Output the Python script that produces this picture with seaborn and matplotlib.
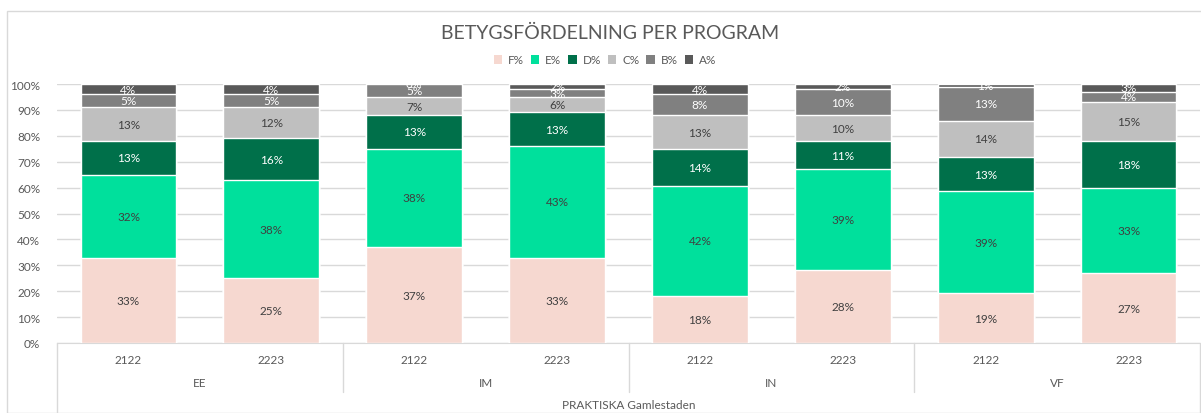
import pandas as pd
import seaborn as sns
import matplotlib
matplotlib.use("Agg")
from matplotlib import pyplot as plt
from matplotlib.patches import Patch, Rectangle
from matplotlib.lines import Line2D
import matplotlib.transforms as mtransforms

# data (percent per grade)
programs = ["EE", "EE", "IM", "IM", "IN", "IN", "VF", "VF"]
years = ["2122", "2223", "2122", "2223", "2122", "2223", "2122", "2223"]
school = "PRAKTISKA Gamlestaden"
grades = ["F%", "E%", "D%", "C%", "B%", "A%"]
f_vals = [33, 25, 37, 33, 18, 28, 19, 27]
e_vals = [32, 38, 38, 43, 42, 39, 39, 33]
d_vals = [13, 16, 13, 13, 14, 11, 13, 18]
c_vals = [13, 12, 7, 6, 13, 10, 14, 15]
b_vals = [5, 5, 5, 3, 8, 10, 13, 4]
a_vals = [4, 4, 0, 2, 4, 2, 1, 3]

colors = ["#F6D8D0", "#00E09C", "#00704A", "#BFBFBF", "#808080", "#595959"]
label_colors = ["#404040", "#404040", "white", "#404040", "white", "white"]
txt_gray = "#595959"
grid_gray = "#D9D9D9"

W, H = 1201, 414


def main():
    df = pd.DataFrame({"Program": programs, "Year": years,
                       "F%": f_vals, "E%": e_vals, "D%": d_vals,
                       "C%": c_vals, "B%": b_vals, "A%": a_vals})
    df["Key"] = df["Program"] + " " + df["Year"]
    order = df["Key"].tolist()

    # 100% stacked: scale each column to its total
    total = df[grades].sum(axis=1)
    cum = df[grades].div(total, axis=0).cumsum(axis=1)

    sns.set_style("white")
    plt.rcParams["font.family"] = ["Lato", "DejaVu Sans"]

    fig = plt.figure(figsize=(W / 100, H / 100), dpi=100)
    ax = fig.add_axes([57 / W, 1 - 344 / H, (1200 - 57) / W, (344 - 85) / H])

    # chart border
    fig.patches.append(Rectangle((7 / W, 0), 1.2, 1 - 12 / H, transform=fig.transFigure,
                                 fill=False, edgecolor=grid_gray, lw=1, zorder=0))

    for g, col in zip(reversed(grades), reversed(colors)):
        plot_df = pd.DataFrame({"Key": order, "val": cum[g].values})
        sns.barplot(data=plot_df, x="Key", y="val", order=order, color=col,
                    saturation=1, width=0.67, errorbar=None, ax=ax, zorder=3)

    # data labels
    for i in range(len(df)):
        bottom = 0
        for g, lc in zip(grades, label_colors):
            top = cum.loc[i, g]
            ax.text(i, (bottom + top) / 2, f"{df.loc[i, g]}%", ha="center", va="center",
                    fontsize=8.5, color=lc, zorder=5)
            bottom = top

    ax.set_ylim(0, 1)
    ax.set_xlim(-0.5, len(df) - 0.5)
    ax.set_yticks([k / 10 for k in range(11)])
    ax.set_yticklabels([f"{k * 10}%" for k in range(11)], fontsize=8.5, color=txt_gray)
    ax.yaxis.grid(True, color=grid_gray, lw=1, zorder=0)
    ax.set_axisbelow(True)
    ax.tick_params(axis="y", length=0, pad=12)
    ax.set_xticks([])
    ax.set_xlabel("")
    ax.set_ylabel("")
    for s in ["top", "right", "left"]:
        ax.spines[s].set_visible(False)
    ax.spines["bottom"].set_color(grid_gray)

    # multi-level category axis
    trans = mtransforms.blended_transform_factory(ax.transData, fig.transFigure)
    for i, y in enumerate(years):
        ax.text(i, 1 - 361 / H, y, transform=trans, ha="center", va="center",
                fontsize=8.5, color=txt_gray)
    for j, p in enumerate(programs[::2]):
        ax.text(2 * j + 0.5, 1 - 384 / H, p, transform=trans, ha="center", va="center",
                fontsize=8.5, color=txt_gray)
    ax.text((len(df) - 1) / 2, 1 - 406 / H, school, transform=trans, ha="center",
            va="center", fontsize=8.5, color=txt_gray)
    for k in range(0, len(df) + 1, 2):
        y_end = 0 if k in (0, len(df)) else 1 - 393 / H
        fig.add_artist(Line2D([k - 0.5, k - 0.5], [1 - 344 / H, y_end], transform=trans,
                              color=grid_gray, lw=1))

    fig.text(610 / W, 1 - 33 / H, "BETYGSFÖRDELNING PER PROGRAM", ha="center", va="center",
             fontsize=14, color=txt_gray)
    handles = [Patch(facecolor=c, edgecolor="none", label=g) for g, c in zip(grades, colors)]
    leg = fig.legend(handles=handles, loc="center", bbox_to_anchor=(605 / W, 1 - 61 / H), ncol=6,
                     frameon=False, fontsize=8.5, handlelength=0.7, handleheight=0.7,
                     handletextpad=0.5, columnspacing=0.6)
    for t in leg.get_texts():
        t.set_color(txt_gray)

    fig.savefig("out.png", dpi=100)


if __name__ == "__main__":
    main()
